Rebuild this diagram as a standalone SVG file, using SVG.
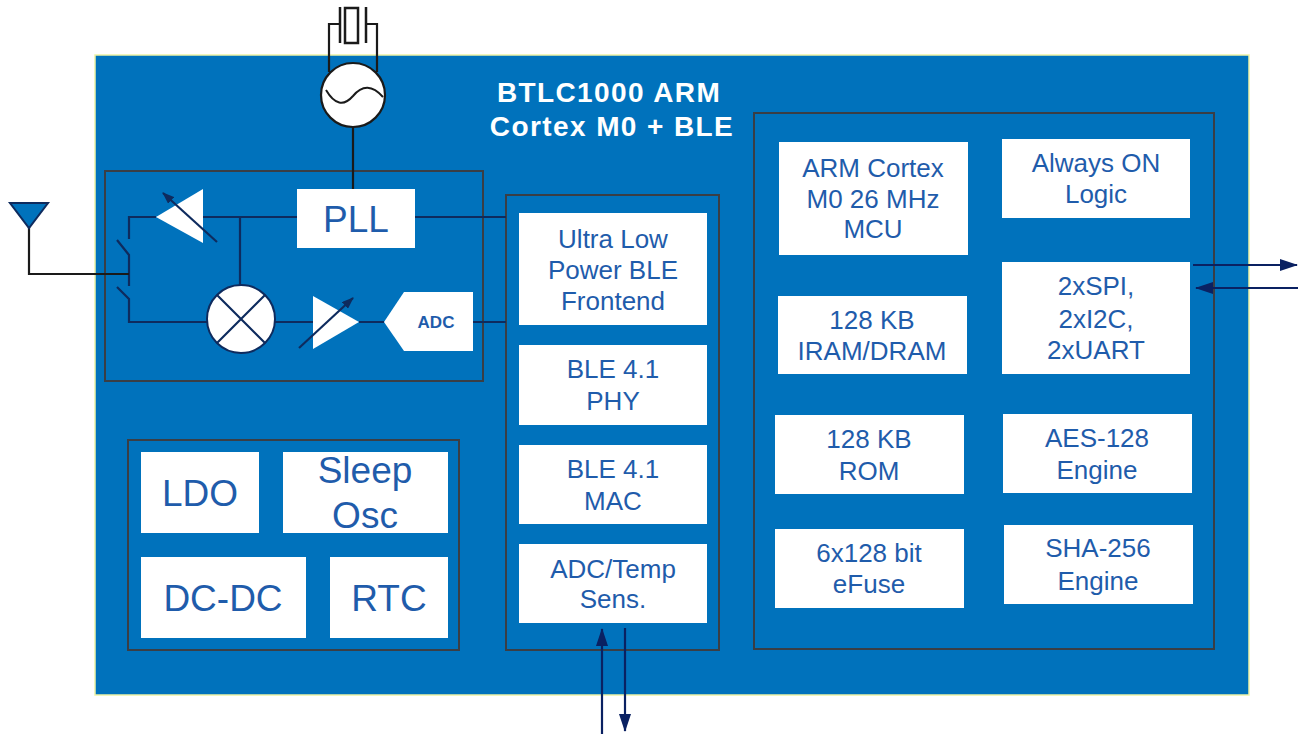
<svg xmlns="http://www.w3.org/2000/svg" width="1300" height="734" viewBox="0 0 1300 734">
<style>
.frame{fill:none;stroke:#3a3e45;stroke-width:2}
.blk{fill:#ffffff}
.t{font-family:"Liberation Sans",Arial,sans-serif;font-size:26px;fill:#1f5cab;text-anchor:middle}
.w{stroke:#0e2b5e;stroke-width:2.2;fill:none}
.k{stroke:#1a1a1a;stroke-width:2.2;fill:none}
.io{stroke:#0a2162;stroke-width:2.2;fill:none}
</style>
<defs>
<marker id="ah" viewBox="0 0 18 12" refX="17" refY="6" markerWidth="18" markerHeight="12" orient="auto" markerUnits="userSpaceOnUse">
<path d="M0,0 L18,6 L0,12 z" fill="#0a2162"/>
</marker>
<marker id="ahs" viewBox="0 0 12 9" refX="11" refY="4.5" markerWidth="12" markerHeight="9" orient="auto" markerUnits="userSpaceOnUse">
<path d="M0,0 L12,4.5 L0,9 z" fill="#0e2b5e"/>
</marker>
</defs>
<rect width="1300" height="734" fill="#ffffff"/>
<rect id="chip" x="95" y="55" width="1154" height="640" fill="#0072bc" stroke="#eef3a6" stroke-width="1.5"/>
<text x="609" y="102" font-family="'Liberation Sans',Arial,sans-serif" font-size="28" font-weight="bold" fill="#ffffff" text-anchor="middle" letter-spacing="1.4">BTLC1000 ARM</text>
<text x="612" y="136" font-family="'Liberation Sans',Arial,sans-serif" font-size="28" font-weight="bold" fill="#ffffff" text-anchor="middle" letter-spacing="1.4">Cortex M0 + BLE</text>

<g id="rf-section">
<rect class="frame" x="105" y="171" width="378" height="210"/>
</g>
<g id="power-section">
<rect class="frame" x="128" y="440" width="331" height="210"/>
</g>
<g id="ble-section">
<rect class="frame" x="506" y="195" width="213" height="455"/>
</g>
<g id="mcu-section">
<rect class="frame" x="754" y="113" width="460" height="536"/>
</g>

<g id="connectors">
<path class="k" d="M340,24 H329 V72 M366,24 H377 V72"/>
<path class="k" d="M353,126 V189"/>
<path class="w" d="M415,217 H506"/>
<path class="w" d="M297,217 H203 M240,217 V286"/>
<path class="w" d="M156,217 H129 V239"/>
<path class="w" d="M117,240 L129,255 V286 M117,287 L129,299 V322 H207"/>
<path class="k" d="M29,203 V274 H129"/>
<path class="w" d="M275,322 H313 M359,322 H384"/>
<path class="w" d="M473,322 H506"/>
<path class="io" d="M1193,265 H1297" marker-end="url(#ah)"/>
<path class="io" d="M1298,288 H1196" marker-end="url(#ah)"/>
<path class="io" d="M602,734 V629" marker-end="url(#ah)"/>
<path class="io" d="M625,628 V731" marker-end="url(#ah)"/>
</g>

<g id="crystal">
<path d="M340,7 V43 M366,7 V43" stroke="#1a1a1a" stroke-width="2.5"/>
<rect x="345" y="8" width="13" height="35" fill="#ffffff" stroke="#1a1a1a" stroke-width="2.5"/>
</g>
<g id="oscillator">
<circle cx="353" cy="95" r="32" fill="#ffffff" stroke="#1a1a1a" stroke-width="2.2"/>
<path d="M326,90 Q339,112 353,96 Q367,79 383,97" fill="none" stroke="#1a1a1a" stroke-width="2"/>
</g>
<g id="antenna">
<path d="M10,203 H48 L29,228 Z" fill="#0072bc" stroke="#0e2b5e" stroke-width="2"/>
</g>
<g id="pll">
<rect class="blk" x="297" y="189" width="118" height="59"/>
<text class="t" x="356" y="232" style="font-size:37px">PLL</text>
</g>
<g id="tx-amp">
<path d="M156,217 L203,189 V243 Z" fill="#ffffff"/>
<path class="w" d="M217,242 L163,193" marker-end="url(#ahs)"/>
</g>
<g id="mixer">
<circle cx="241" cy="319" r="34" fill="#ffffff" stroke="#0e2b5e" stroke-width="2"/>
<path class="w" d="M217,295 L265,343 M265,295 L217,343"/>
</g>
<g id="rx-amp">
<path d="M313,296 L359,322 L313,349 Z" fill="#ffffff"/>
<path class="w" d="M299,348 L353,298" marker-end="url(#ahs)"/>
</g>
<g id="adc">
<path d="M384,322 L404,292 H473 V351 H404 Z" fill="#ffffff"/>
<text x="436" y="328" font-family="'Liberation Sans',Arial,sans-serif" font-size="17" font-weight="bold" fill="#1f5cab" text-anchor="middle">ADC</text>
</g>

<g id="ldo">
<rect class="blk" x="141" y="452" width="118" height="81"/>
<text class="t" x="200" y="506" style="font-size:37px">LDO</text>
</g>
<g id="sleep-osc">
<rect class="blk" x="283" y="452" width="165" height="81"/>
<text class="t" x="365" y="483" style="font-size:37px">Sleep</text>
<text class="t" x="365" y="528" style="font-size:37px">Osc</text>
</g>
<g id="dc-dc">
<rect class="blk" x="141" y="557" width="165" height="81"/>
<text class="t" x="223" y="611" style="font-size:37px">DC-DC</text>
</g>
<g id="rtc">
<rect class="blk" x="330" y="557" width="118" height="81"/>
<text class="t" x="389" y="611" style="font-size:37px">RTC</text>
</g>

<g id="ble-frontend">
<rect class="blk" x="519" y="213" width="188" height="112"/>
<text class="t" x="613" y="248">Ultra Low</text>
<text class="t" x="613" y="279">Power BLE</text>
<text class="t" x="613" y="310">Frontend</text>
</g>
<g id="ble-phy">
<rect class="blk" x="519" y="345" width="188" height="80"/>
<text class="t" x="613" y="378">BLE 4.1</text>
<text class="t" x="613" y="410">PHY</text>
</g>
<g id="ble-mac">
<rect class="blk" x="519" y="445" width="188" height="79"/>
<text class="t" x="613" y="478">BLE 4.1</text>
<text class="t" x="613" y="510">MAC</text>
</g>
<g id="adc-temp">
<rect class="blk" x="519" y="544" width="188" height="79"/>
<text class="t" x="613" y="578">ADC/Temp</text>
<text class="t" x="613" y="608">Sens.</text>
</g>

<g id="cortex-m0">
<rect class="blk" x="779" y="142" width="189" height="113"/>
<text class="t" x="873" y="177">ARM Cortex</text>
<text class="t" x="873" y="208">M0 26 MHz</text>
<text class="t" x="873" y="238">MCU</text>
</g>
<g id="always-on">
<rect class="blk" x="1002" y="139" width="188" height="79"/>
<text class="t" x="1096" y="172">Always ON</text>
<text class="t" x="1096" y="203">Logic</text>
</g>
<g id="ram">
<rect class="blk" x="778" y="296" width="189" height="78"/>
<text class="t" x="872" y="329">128 KB</text>
<text class="t" x="872" y="360">IRAM/DRAM</text>
</g>
<g id="serial-io">
<rect class="blk" x="1002" y="262" width="188" height="112"/>
<text class="t" x="1096" y="295">2xSPI,</text>
<text class="t" x="1096" y="328">2xI2C,</text>
<text class="t" x="1096" y="359">2xUART</text>
</g>
<g id="rom">
<rect class="blk" x="775" y="415" width="189" height="79"/>
<text class="t" x="869" y="448">128 KB</text>
<text class="t" x="869" y="480">ROM</text>
</g>
<g id="aes">
<rect class="blk" x="1003" y="414" width="189" height="79"/>
<text class="t" x="1097" y="447">AES-128</text>
<text class="t" x="1097" y="479">Engine</text>
</g>
<g id="efuse">
<rect class="blk" x="775" y="529" width="189" height="79"/>
<text class="t" x="869" y="562">6x128 bit</text>
<text class="t" x="869" y="593">eFuse</text>
</g>
<g id="sha">
<rect class="blk" x="1004" y="525" width="189" height="79"/>
<text class="t" x="1098" y="557">SHA-256</text>
<text class="t" x="1098" y="590">Engine</text>
</g>
</svg>
